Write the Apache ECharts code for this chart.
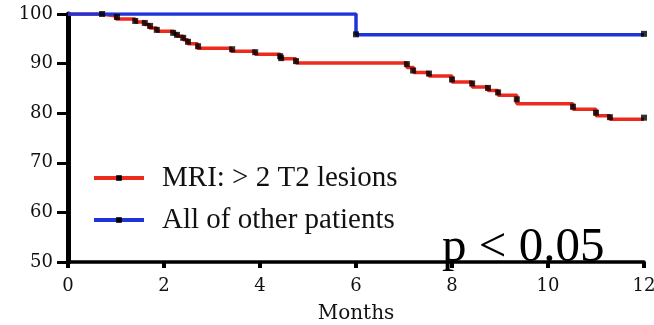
<!DOCTYPE html>
<html><head><meta charset="utf-8">
<script src="https://cdn.jsdelivr.net/npm/echarts@6/dist/echarts.min.js"></script>
<style>html,body{margin:0;padding:0;background:#fff}#c{width:654px;height:325px}</style>
</head><body><div id="c"></div>
<script>
// ---- data ----
const xTicks = [0, 2, 4, 6, 8, 10, 12];
const yTicks = [50, 60, 70, 80, 90, 100];
const seriesNames = ['MRI: > 2 T2 lesions', 'All of other patients'];
const xAxisName = 'Months';
const pValueText = 'p < 0.05';

// red group (Kaplan-Meier steps: time, survival after the step)
const redTimes = [0, 0.7, 1.0, 1.4, 1.6, 1.7, 1.85, 2.2, 2.27, 2.4, 2.5, 2.7, 3.4, 3.9, 4.42, 4.75, 7.06, 7.2, 7.52, 8.0, 8.42, 8.75, 8.96, 9.35, 10.52, 11.0, 11.29, 12];
const redSurv  = [100, 99.6, 99.0, 98.4, 97.9, 97.2, 96.5, 96.0, 95.5, 94.8, 94.0, 93.1, 92.5, 91.9, 91.0, 90.1, 89.2, 88.2, 87.5, 86.3, 85.3, 84.6, 83.6, 81.9, 80.8, 79.5, 78.8, 78.8];
// red censor marks
const redCensorTimes = [0.71, 1.02, 1.40, 1.60, 1.71, 1.85, 2.19, 2.27, 2.40, 2.50, 2.71, 3.42, 3.90, 4.42, 4.44, 4.75, 7.06, 7.19, 7.52, 8.0, 8.42, 8.75, 8.96, 9.35, 10.52, 11.0, 11.29, 12];
const redCensorSurv  = [100, 99.4, 98.6, 98.2, 97.6, 96.8, 96.2, 95.8, 95.2, 94.4, 93.5, 92.9, 92.3, 91.5, 91.1, 90.5, 89.9, 88.6, 88.0, 86.8, 86.0, 85.1, 84.2, 82.8, 81.3, 80.1, 79.2, 79.1];

// blue group
const blueTimes = [0, 6, 12];
const blueSurv  = [100, 95.8, 95.8];
const blueCensorTimes = [6, 12];
const blueCensorSurv  = [95.9, 96.0];

const RED = '#ec2a1e', BLUE = '#1d35d8';
const zip = (a, b) => a.map((v, i) => [v, b[i]]);

const chart = echarts.init(document.getElementById('c'), null, {renderer: 'canvas'});
chart.setOption({
  animation: false,
  backgroundColor: '#fff',
  grid: {left: 68, right: 10, top: 14, bottom: 63, containLabel: false, outerBoundsMode: 'none'},
  xAxis: {
    type: 'value', min: xTicks[0], max: xTicks[xTicks.length - 1], interval: xTicks[1] - xTicks[0],
    name: xAxisName, nameLocation: 'middle', nameGap: 42,
    nameTextStyle: {fontFamily: 'DejaVu Serif', fontSize: 20, color: '#111'},
    axisLine: {show: true, lineStyle: {color: '#000', width: 3.5}},
    axisTick: {show: true, length: 6, lineStyle: {color: '#000', width: 4}},
    axisLabel: {margin: 15, fontFamily: 'DejaVu Serif', fontSize: 18, color: '#111'},
    splitLine: {show: false}
  },
  yAxis: {
    type: 'value', min: yTicks[0], max: yTicks[yTicks.length - 1], interval: yTicks[1] - yTicks[0],
    axisLine: {show: true, lineStyle: {color: '#000', width: 5}},
    axisTick: {show: true, length: 11, lineStyle: {color: '#000', width: 3}},
    axisLabel: {margin: 15, fontFamily: 'DejaVu Serif', fontSize: 18, color: '#111'},
    splitLine: {show: false}
  },
  legend: {
    orient: 'vertical', left: 87, top: 158,
    itemWidth: 50, itemHeight: 7, itemGap: 12,
    data: seriesNames,
    textStyle: {fontFamily: 'Liberation Serif', fontSize: 29, color: '#111', lineHeight: 30, padding: [0, 0, 0, 13]},
    itemStyle: {color: '#000', borderWidth: 0},
    lineStyle: {width: 4}
  },
  graphic: [{
    type: 'text', left: 442, top: 224, z: 10,
    style: {text: pValueText, font: '49px "Liberation Serif"', fill: '#000'}
  }],
  series: [
    {name: seriesNames[0], type: 'line', step: 'end', data: zip(redTimes, redSurv),
     symbol: 'rect', showSymbol: false, lineStyle: {color: RED, width: 3.5}, itemStyle: {color: RED}, z: 3},
    {name: seriesNames[1], type: 'line', step: 'end', data: zip(blueTimes, blueSurv),
     symbol: 'rect', showSymbol: false, lineStyle: {color: BLUE, width: 3.5}, itemStyle: {color: BLUE}, z: 3},
    {type: 'scatter', data: zip(redCensorTimes, redCensorSurv), symbol: 'rect', symbolSize: 6,
     itemStyle: {color: '#000'}, z: 4, silent: true},
    {type: 'scatter', data: zip(blueCensorTimes, blueCensorSurv), symbol: 'rect', symbolSize: 6,
     itemStyle: {color: '#000'}, z: 4, silent: true}
  ]
});
</script>
</body></html>
